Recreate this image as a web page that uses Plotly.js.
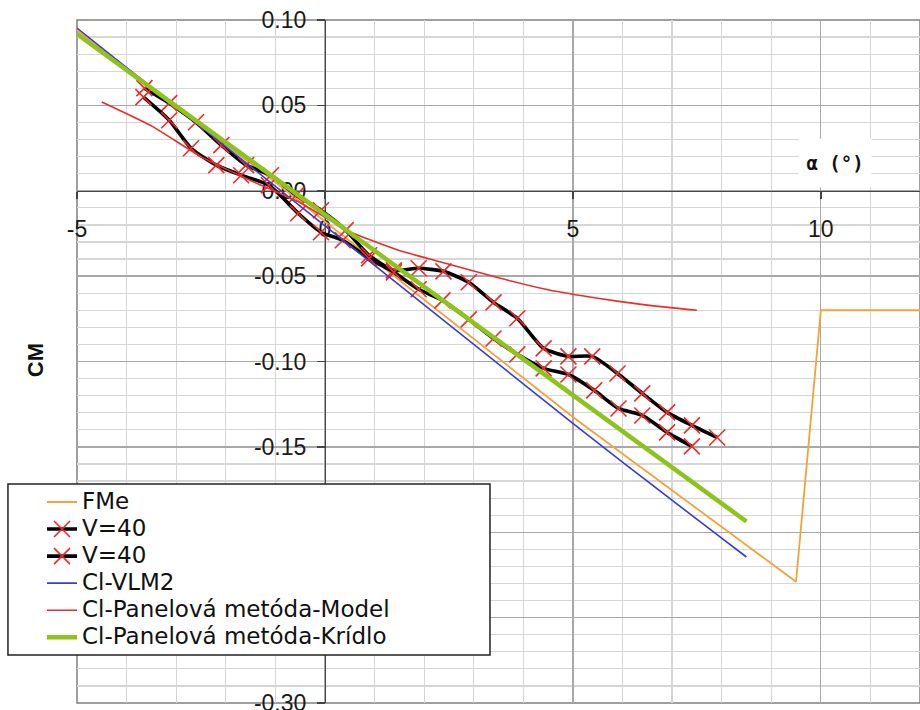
<!DOCTYPE html>
<html>
<head>
<meta charset="utf-8">
<script src="https://cdn.plot.ly/plotly-3.0.1.min.js"></script>
<style>
  body { margin: 0; background: #ffffff; }
  #chart { width: 920px; height: 710px; }
  .legendtext { font-size: 23px !important; }
</style>
</head>
<body>
<div id="chart"></div>
<script>
// ---- data ----
const seriesNames = ["FMe", "V=40", "V=40", "Cl-VLM2", "Cl-Panelová metóda-Model", "Cl-Panelová metóda-Krídlo"];

const fmeX = [-5, -4, -3, -2, -1, 0, 1, 2, 3, 4, 5, 6, 7, 8, 9, 9.5, 10, 12];
const fmeY = [0.094, 0.072, 0.050, 0.027, 0.005, -0.018, -0.041, -0.064, -0.087, -0.110, -0.1325, -0.154, -0.1755, -0.197, -0.218, -0.229, -0.070, -0.070];

const v40aX = [-3.64, -3.14, -2.60, -2.09, -1.59, -1.09, -0.58, -0.08, 0.42, 0.89, 1.39, 1.89, 2.39, 2.90, 3.40, 3.88, 4.41, 4.91, 5.39, 5.90, 6.40, 6.90, 7.40, 7.91];
const v40aY = [0.0601, 0.0513, 0.0401, 0.0267, 0.0150, 0.0091, -0.0026, -0.0114, -0.0231, -0.0378, -0.0466, -0.0454, -0.0472, -0.0536, -0.0654, -0.0747, -0.0923, -0.0970, -0.0970, -0.1070, -0.1187, -0.1298, -0.1374, -0.1445];

const v40bX = [-3.66, -3.14, -2.70, -2.19, -1.69, -1.13, -0.54, -0.08, 0.36, 0.89, 1.39, 1.89, 2.37, 2.90, 3.40, 3.88, 4.41, 4.91, 5.43, 5.92, 6.40, 6.90, 7.40];
const v40bY = [0.0548, 0.0413, 0.0249, 0.0150, 0.0091, 0.0032, -0.0132, -0.0243, -0.0290, -0.0396, -0.0478, -0.0577, -0.0642, -0.0753, -0.0865, -0.0958, -0.1040, -0.1076, -0.1169, -0.1275, -0.1316, -0.1415, -0.1497];

const vlmX = [-5, -4, -3, -2, -1, 0, 1, 2, 3, 4, 5, 6, 7, 8, 8.5];
const vlmY = [0.0953, 0.0721, 0.0490, 0.0258, 0.0027, -0.0205, -0.0437, -0.0668, -0.0900, -0.1131, -0.1363, -0.1590, -0.1815, -0.2035, -0.2145];

const modelX = [-4.5, -3.5, -2.5, -1.5, -0.5, 0.5, 1.5, 2.5, 3.5, 4.5, 5.5, 6.5, 7.5];
const modelY = [0.052, 0.038, 0.020, 0.006, -0.007, -0.024, -0.035, -0.043, -0.051, -0.058, -0.063, -0.067, -0.070];

const kridloX = [-5, -4, -3, -2, -1, 0, 1, 2, 3, 4, 5, 6, 7, 8, 8.5];
const kridloY = [0.0918, 0.0707, 0.0495, 0.0284, 0.0072, -0.0139, -0.0351, -0.0562, -0.0774, -0.0985, -0.1197, -0.1408, -0.1620, -0.1831, -0.1937];

const xTickVals = [-5, 0, 5, 10];
const xTickText = ["-5", "0", "5", "10"];
const yTickVals = [0.10, 0.05, 0.00, -0.05, -0.10, -0.15, -0.20, -0.25, -0.30];
// -0.20 and -0.25 lie under the legend box in the reference, so they are not shown
const yTickText = ["0.10", "0.05", "0.00", "-0.05", "-0.10", "-0.15", "", "", "-0.30"];

const xTitle = "α (°)";
const yTitle = "CM";

// ---- styles ----
const xRange = [-5, 12];
const yRange = [-0.30, 0.10];
const redX = "#ee2a2a";

const traces = [
  { x: fmeX, y: fmeY, name: seriesNames[0], type: "scatter", mode: "lines",
    line: { color: "#f2a33a", width: 1.8 } },
  { x: v40aX, y: v40aY, name: seriesNames[1], type: "scatter", mode: "lines+markers",
    line: { color: "#000000", width: 3.6, shape: "spline", smoothing: 0.6 },
    marker: { symbol: "x-thin", size: 16, color: redX, line: { color: redX, width: 1.6 } } },
  { x: v40bX, y: v40bY, name: seriesNames[2], type: "scatter", mode: "lines+markers",
    line: { color: "#000000", width: 3.6, shape: "spline", smoothing: 0.6 },
    marker: { symbol: "x-thin", size: 16, color: redX, line: { color: redX, width: 1.6 } } },
  { x: vlmX, y: vlmY, name: seriesNames[3], type: "scatter", mode: "lines",
    line: { color: "#3a3ad8", width: 1.6 } },
  { x: modelX, y: modelY, name: seriesNames[4], type: "scatter", mode: "lines",
    line: { color: "#ee2a2a", width: 1.6, shape: "spline", smoothing: 0.5 } },
  { x: kridloX, y: kridloY, name: seriesNames[5], type: "scatter", mode: "lines",
    line: { color: "#8cc41c", width: 4.5 } }
];

const tickFont = { family: "Liberation Sans, Arial, sans-serif", size: 23, color: "#1a1a1a" };

const layout = {
  width: 920, height: 710,
  margin: { l: 77, r: 0, t: 20, b: 7 },
  paper_bgcolor: "#ffffff",
  plot_bgcolor: "#ffffff",
  showlegend: true,
  xaxis: {
    range: xRange, anchor: "free", position: (0 - yRange[0]) / (yRange[1] - yRange[0]),
    tickmode: "array", tickvals: xTickVals, ticktext: xTickText,
    ticks: "outside", ticklen: 7, tickcolor: "#444", tickwidth: 1.5,
    showline: true, linecolor: "#444", linewidth: 1.5,
    showgrid: true, gridcolor: "#a8a8a8", gridwidth: 1.3,
    zeroline: false, tickfont: tickFont, ticklabelstandoff: 10,
    ticklabeloverflow: "allow",
    layer: "below traces",
    minor: { tickmode: "linear", tick0: 0, dtick: 1, showgrid: true, gridcolor: "#d6d6d6", gridwidth: 1.2 }
  },
  yaxis: {
    range: yRange, anchor: "free", position: (0 - xRange[0]) / (xRange[1] - xRange[0]),
    tickmode: "array", tickvals: yTickVals, ticktext: yTickText,
    ticks: "outside", ticklen: 8, tickcolor: "#444", tickwidth: 1.5,
    showline: true, linecolor: "#444", linewidth: 1.5,
    showgrid: true, gridcolor: "#a8a8a8", gridwidth: 1.3,
    zeroline: false, tickfont: tickFont, ticklabelstandoff: 6,
    ticklabeloverflow: "allow",
    layer: "below traces",
    minor: { tickmode: "linear", tick0: 0, dtick: 0.01, showgrid: true, gridcolor: "#d6d6d6", gridwidth: 1.2 }
  },
  legend: {
    x: -0.0415, y: 0.3214, xanchor: "left", yanchor: "top",
    bgcolor: "rgba(0,0,0,0)", borderwidth: 0,
    font: { family: "DejaVu Sans, Verdana, sans-serif", size: 18.5, color: "#111111" },
    tracegroupgap: 0
  },
  shapes: [
    { type: "rect", xref: "paper", yref: "paper", x0: 0, x1: 1, y0: 0, y1: 1,
      line: { color: "#808080", width: 1.5 }, fillcolor: "rgba(0,0,0,0)", layer: "below" },
    { type: "rect", xref: "paper", yref: "paper", x0: -0.0819, x1: 0.4899, y0: 0.0703, y1: 0.3206,
      line: { color: "#222222", width: 1.5 }, fillcolor: "#ffffff", layer: "above" }
  ],
  annotations: [
    { text: yTitle, xref: "paper", yref: "paper", x: -0.0498, y: 0.502, showarrow: false,
      textangle: -90, xanchor: "center", yanchor: "middle",
      font: { family: "Liberation Sans, Arial, sans-serif", size: 22, color: "#111", weight: "bold" } },
    { text: "<b>" + xTitle + "</b>", xref: "paper", yref: "paper", x: 0.899, y: 0.7906, showarrow: false,
      xanchor: "center", yanchor: "middle", bgcolor: "#ffffff", width: 70, height: 46,
      font: { family: "DejaVu Sans Mono, monospace", size: 19, color: "#111" } }
  ]
};

Plotly.newPlot("chart", traces, layout, { displayModeBar: false, staticPlot: true });
</script>
</body>
</html>
